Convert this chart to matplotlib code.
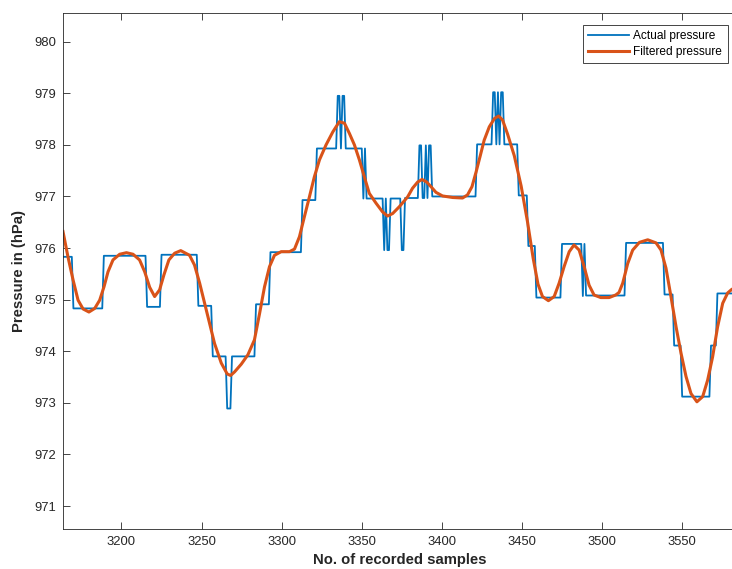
import numpy as np
import matplotlib
matplotlib.use("Agg")
import matplotlib.pyplot as plt

plt.rcParams["font.family"] = ["Liberation Sans", "DejaVu Sans"]

# actual pressure: step levels (hPa) and the sample where each level starts
step_start = [3163, 3170, 3189, 3216, 3225, 3248, 3257, 3266, 3269, 3284,
              3293, 3313, 3322, 3335, 3337, 3338, 3340, 3351, 3352, 3353,
              3364, 3365, 3366, 3368, 3375, 3377, 3386, 3388, 3390, 3391,
              3392, 3394, 3422, 3432, 3434, 3435, 3436, 3437, 3439, 3448,
              3454, 3459, 3475, 3488, 3489, 3490, 3515, 3539, 3545, 3550,
              3568, 3572]
step_level = [975.83, 974.83, 975.85, 974.86, 975.87, 974.88, 973.90, 972.89, 973.90, 974.91,
              975.92, 976.93, 977.93, 978.95, 977.93, 978.95, 977.93, 976.96, 977.93, 976.96,
              975.96, 976.96, 975.96, 976.96, 975.96, 976.97, 977.99, 976.97, 977.99, 976.97,
              977.99, 977.00, 978.01, 979.02, 978.01, 979.02, 978.01, 979.02, 978.01, 977.02,
              976.04, 975.04, 976.08, 975.07, 976.08, 975.08, 976.10, 975.10, 974.11, 973.12,
              974.11, 975.12]
last_sample = 3584

# filtered pressure
filt_sample = [3163.5, 3166.6, 3169.8, 3172.9, 3176.0, 3179.7, 3183.3, 3186.4, 3189.1, 3191.6,
               3194.7, 3198.9, 3203.1, 3207.2, 3211.3, 3214.5, 3217.6, 3220.7, 3223.8, 3226.5,
               3229.6, 3233.2, 3237.0, 3242.5, 3245.6, 3248.8, 3251.9, 3255.0, 3258.1, 3262.3,
               3266.0, 3268.1, 3270.6, 3274.8, 3278.9, 3283.0, 3286.2, 3289.3, 3292.4, 3295.5,
               3299.7, 3304.9, 3308.0, 3311.1, 3314.2, 3317.3, 3320.4, 3323.6, 3327.7, 3331.9,
               3336.0, 3339.2, 3342.3, 3345.4, 3348.5, 3351.6, 3354.7, 3358.9, 3363.0, 3366.1,
               3369.3, 3373.4, 3378.6, 3381.7, 3384.9, 3387.6, 3390.5, 3393.2, 3396.3, 3400.4,
               3406.7, 3412.9, 3416.0, 3418.8, 3421.4, 3423.8, 3426.4, 3429.6, 3432.8, 3435.4,
               3437.9, 3441.0, 3445.2, 3449.5, 3453.5, 3457.0, 3460.0, 3462.8, 3466.5, 3470.1,
               3473.2, 3476.3, 3479.5, 3482.5, 3485.7, 3488.8, 3491.9, 3495.0, 3499.2, 3504.4,
               3508.5, 3510.6, 3512.9, 3516.0, 3519.1, 3523.3, 3528.5, 3533.7, 3536.8, 3539.9,
               3543.0, 3546.2, 3549.3, 3552.4, 3555.5, 3559.2, 3562.8, 3565.9, 3569.0, 3572.1,
               3575.3, 3578.4, 3581.0, 3584.0]
filt_value = [976.32, 975.83, 975.38, 974.99, 974.82, 974.76, 974.83, 974.99, 975.25, 975.54,
              975.77, 975.88, 975.91, 975.88, 975.77, 975.54, 975.24, 975.06, 975.19, 975.48,
              975.77, 975.90, 975.95, 975.86, 975.67, 975.32, 974.93, 974.54, 974.15, 973.77,
              973.56, 973.53, 973.60, 973.75, 973.93, 974.22, 974.73, 975.25, 975.64, 975.86,
              975.93, 975.93, 975.98, 976.22, 976.61, 976.99, 977.38, 977.71, 978.00, 978.25,
              978.45, 978.42, 978.22, 978.00, 977.71, 977.38, 977.06, 976.87, 976.70, 976.62,
              976.67, 976.80, 976.99, 977.16, 977.28, 977.33, 977.28, 977.19, 977.08, 977.01,
              976.98, 976.97, 977.03, 977.19, 977.48, 977.77, 978.09, 978.35, 978.51, 978.56,
              978.48, 978.21, 977.79, 977.20, 976.50, 975.80, 975.30, 975.06, 974.98, 975.06,
              975.32, 975.64, 975.93, 976.06, 975.96, 975.64, 975.28, 975.09, 975.04, 975.04,
              975.09, 975.14, 975.32, 975.70, 975.96, 976.11, 976.16, 976.10, 975.96, 975.61,
              975.06, 974.47, 973.96, 973.51, 973.18, 973.02, 973.12, 973.44, 973.89, 974.47,
              974.93, 975.13, 975.20, 975.24]

# expand the runs into one value per sample
run_len = np.diff(step_start + [last_sample + 1])
actual = np.repeat(step_level, run_len)
samples = np.arange(step_start[0], last_sample + 1)

fig = plt.figure(figsize=(7.32, 5.69), dpi=100)
# axes runs a few px past the right edge of the figure (cropped like the original)
ax = fig.add_axes([63 / 732, 1 - 528.7 / 569, 673 / 732, 515.9 / 569])

ax.plot(samples, actual, color="#0072BD", lw=1.3, label="Actual pressure")
ax.plot(filt_sample, filt_value, color="#D95319", lw=2.2, label="Filtered pressure")

ax.set_xlim(3163.5, 3163.5 + 673 / 1.602)
ax.set_ylim(970.56, 980.56)
ax.set_xticks(np.arange(3200, 3551, 50))
ax.set_yticks(np.arange(971, 981, 1))

ax.tick_params(direction="in", length=5, width=0.6, top=True, right=False,
               colors="#262626", labelsize=9.4)
ax.tick_params(axis="x", pad=5)
ax.tick_params(axis="y", pad=5)
for sp in ax.spines.values():
    sp.set_color("#262626")
    sp.set_linewidth(0.6)

ax.set_xlabel("No. of recorded samples", fontsize=10.7, fontweight="bold", color="#262626", labelpad=4)
ax.set_ylabel("Pressure in (hPa)", fontsize=10.7, fontweight="bold", color="#262626", labelpad=6)

leg = ax.legend(loc="upper right", bbox_to_anchor=(664.7 / 673, 0.9763), borderaxespad=0,
                fontsize=8.6, fancybox=False, framealpha=1, edgecolor="#262626",
                handlelength=3.4, handletextpad=0.4, borderpad=0.45, labelspacing=0.3)
leg.get_frame().set_linewidth(0.6)

fig.savefig("out.png", dpi=100)
